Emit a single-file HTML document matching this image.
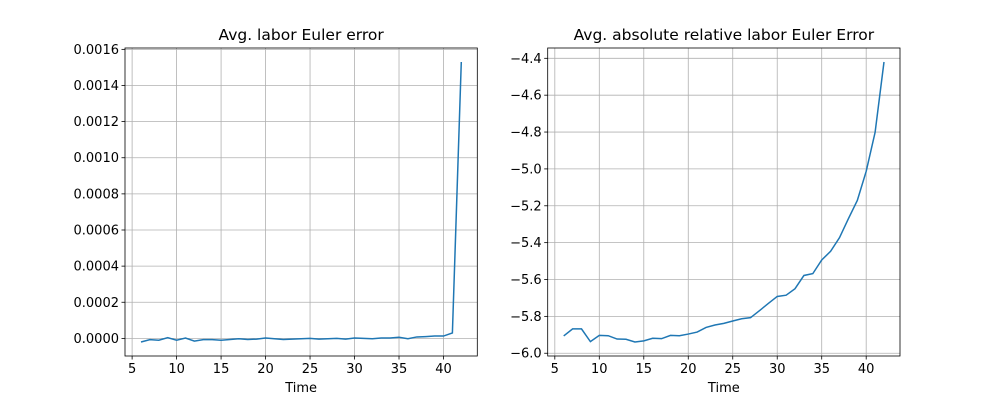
<!DOCTYPE html>
<html><head><meta charset="utf-8"><style>
body{margin:0;background:#fff}
svg{display:block;font-family:"DejaVu Sans","Liberation Sans",sans-serif}
</style></head><body>
<svg id="fig" width="1000" height="400"></svg>
<script>
const times=[6,7,8,9,10,11,12,13,14,15,16,17,18,19,20,21,22,23,24,25,26,27,28,29,30,31,32,33,34,35,36,37,38,39,40,41,42];
const laborErr=[-0.00002,-0.000007,-0.00001,0.000004,-0.00001,0.000002,-0.000015,-0.000007,-0.000007,-0.00001,-0.000006,-0.000002,-0.000006,-0.000004,0.000002,-0.000002,-0.000006,-0.000004,-0.000002,0,-0.000004,-0.000002,0,-0.000004,0.000002,0,-0.000002,0.000002,0.000002,0.000006,-0.000002,0.000008,0.00001,0.000013,0.000013,0.00003,0.00153];
const relErr=[-5.906,-5.868,-5.868,-5.937,-5.903,-5.905,-5.923,-5.924,-5.939,-5.933,-5.919,-5.921,-5.903,-5.905,-5.896,-5.885,-5.86,-5.847,-5.838,-5.825,-5.813,-5.807,-5.769,-5.73,-5.692,-5.685,-5.65,-5.578,-5.568,-5.494,-5.447,-5.373,-5.27,-5.171,-5.013,-4.802,-4.42];
const xTicks=[5,10,15,20,25,30,35,40];
const leftYTicks=[0,0.0002,0.0004,0.0006,0.0008,0.0010,0.0012,0.0014,0.0016];
const leftYLabels=["0.0000","0.0002","0.0004","0.0006","0.0008","0.0010","0.0012","0.0014","0.0016"];
const rightYTicks=[-6.0,-5.8,-5.6,-5.4,-5.2,-5.0,-4.8,-4.6,-4.4];
const rightYLabels=["\u22126.0","\u22125.8","\u22125.6","\u22125.4","\u22125.2","\u22125.0","\u22124.8","\u22124.6","\u22124.4"];
const NS="http://www.w3.org/2000/svg";
const svg=document.getElementById('fig');
function mk(tag,attrs,parent){const e=document.createElementNS(NS,tag);for(const k in attrs)e.setAttribute(k,attrs[k]);(parent||svg).appendChild(e);return e;}
function panel(name,L,R,T,B,ys,yt,yl,title){
  const xmin=times[0],xmax=times[times.length-1],xm=(xmax-xmin)*0.05;
  const ymn=Math.min(...ys),ymx=Math.max(...ys),ym=(ymx-ymn)*0.05;
  const X=v=>L+(v-(xmin-xm))/((xmax+xm)-(xmin-xm))*(R-L);
  const Y=v=>B-(v-(ymn-ym))/((ymx+ym)-(ymn-ym))*(B-T);
  const g=mk('g',{});
  
  
  xTicks.forEach(t=>{const x=X(t);
    const l=mk('line',{x1:x,x2:x,y1:T,y2:B,stroke:'#b0b0b0','stroke-width':0.8},g);
    
    mk('line',{x1:x,x2:x,y1:B,y2:B+3.5,stroke:'#000','stroke-width':0.8},g);
    const tx=mk('text',{x:x,y:B+17,'font-size':13,'text-anchor':'middle'},g);tx.textContent=t;
    });
  yt.forEach((t,i)=>{const y=Y(t);
    const l=mk('line',{x1:L,x2:R,y1:y,y2:y,stroke:'#b0b0b0','stroke-width':0.8},g);
    
    mk('line',{x1:L-3.5,x2:L,y1:y,y2:y,stroke:'#000','stroke-width':0.8},g);
    const tx=mk('text',{x:L-6,y:y+4.5,'font-size':13,'text-anchor':'end'},g);tx.textContent=yl[i];
    });
  const d=times.map((t,i)=>(i?'L':'M')+X(t).toFixed(2)+' '+Y(ys[i]).toFixed(2)).join(' ');
  const p=mk('path',{d:d,fill:'none',stroke:'#1f77b4','stroke-width':1.5},g);
  
  const f=mk('rect',{x:L,y:T,width:R-L,height:B-T,fill:'none',stroke:'#000','stroke-width':0.8},g);
  
  const tt=mk('text',{x:(L+R)/2,y:T-8,'font-size':15.5,'text-anchor':'middle'},g);tt.textContent=title;
  
  const xl=mk('text',{x:(L+R)/2,y:B+36,'font-size':13,'text-anchor':'middle'},g);xl.textContent='Time';
  
}
panel('left-panel',125,477.3,48,356,laborErr,leftYTicks,leftYLabels,'Avg. labor Euler error');
panel('right-panel',547.7,900,48,356,relErr,rightYTicks,rightYLabels,'Avg. absolute relative labor Euler Error');
</script>
</body></html>
